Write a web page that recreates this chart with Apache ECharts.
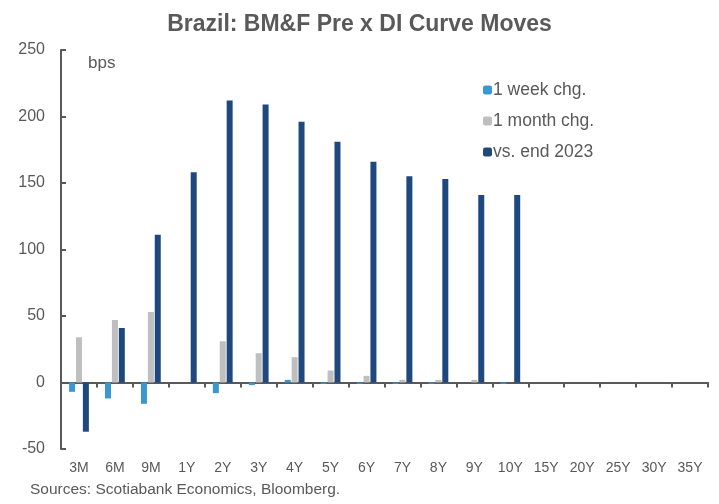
<!DOCTYPE html>
<html>
<head>
<meta charset="utf-8">
<script src="https://cdn.jsdelivr.net/npm/echarts@6/dist/echarts.min.js"></script>
<style>
  html, body { margin: 0; padding: 0; background: #fff; }
  #chart { width: 719px; height: 504px; }
</style>
</head>
<body>
<div id="chart"></div>
<script>
  // tenors on the DI curve
  const tenors = ['3M', '6M', '9M', '1Y', '2Y', '3Y', '4Y', '5Y', '6Y', '7Y', '8Y', '9Y', '10Y', '15Y', '20Y', '25Y', '30Y', '35Y'];
  // changes in bps
  const weekChg = [-7, -12, -16, 0, -8, -2, 2, -1, -1, -1, -1, 0, -1, 0, 0, 0, 0, 0];
  const monthChg = [34, 47, 53, 0, 31, 22, 19, 9, 5, 2, 2, 2, 0, 0, 0, 0, 0, 0];
  const vsEnd2023 = [-37, 41, 111, 158, 212, 209, 196, 181, 166, 155, 153, 141, 141, 0, 0, 0, 0, 0];

  const grey = '#595959';
  const font = '"Liberation Sans", Arial, sans-serif';
  const chart = echarts.init(document.getElementById('chart'));

  chart.setOption({
    animation: false,
    textStyle: { fontFamily: font, color: grey },
    title: {
      text: 'Brazil: BM&F Pre x DI Curve Moves',
      left: 'center',
      top: 8,
      textStyle: { fontSize: 23, fontWeight: 'bold', color: grey, fontFamily: font }
    },
    legend: {
      orient: 'vertical',
      left: 478,
      top: 76,
      itemWidth: 9,
      itemHeight: 9,
      itemGap: 13,
      textStyle: { fontSize: 17.5, color: grey, padding: [0, 0, 0, -4] },
      data: ['1 week chg.', '1 month chg.', 'vs. end 2023']
    },
    graphic: [
      { type: 'text', left: 88, top: 55, style: { text: 'bps', fontSize: 17, fill: grey, fontFamily: font } },
      { type: 'text', left: 30, top: 482, style: { text: 'Sources: Scotiabank Economics, Bloomberg.', fontSize: 15.5, fill: grey, fontFamily: font } }
    ],
    grid: { left: 61, right: 11, top: 50, bottom: 55, containLabel: false },
    xAxis: [
      {
        type: 'category',
        data: tenors,
        axisLine: { onZero: true, lineStyle: { color: grey, width: 2 } },
        axisTick: { show: true, length: 5, lineStyle: { color: grey, width: 2 } },
        axisLabel: { show: false }
      },
      {
        type: 'category',
        data: tenors,
        position: 'bottom',
        axisLine: { show: false, onZero: false },
        axisTick: { show: false },
        axisLabel: { fontSize: 14, color: grey, margin: 12 }
      }
    ],
    yAxis: {
      type: 'value',
      min: -50,
      max: 250,
      interval: 50,
      splitLine: { show: false },
      axisLine: { show: true, lineStyle: { color: grey, width: 2 } },
      axisTick: { show: true, inside: true, length: 5, lineStyle: { color: grey, width: 2 } },
      axisLabel: { fontSize: 16, color: grey, margin: 16 }
    },
    series: [
      { name: '1 week chg.', type: 'bar', data: weekChg, barWidth: 6, barGap: '15%', itemStyle: { color: '#3A97D0' } },
      { name: '1 month chg.', type: 'bar', data: monthChg, barWidth: 6, barGap: '15%', itemStyle: { color: '#BFBFBF' } },
      { name: 'vs. end 2023', type: 'bar', data: vsEnd2023, barWidth: 6, barGap: '15%', itemStyle: { color: '#1F497D' } }
    ]
  });
</script>
</body>
</html>
